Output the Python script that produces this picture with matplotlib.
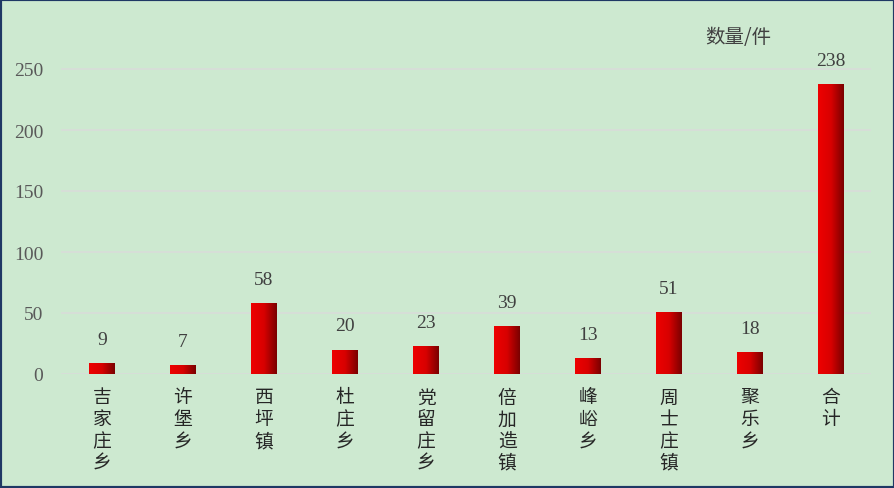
import numpy as np
import matplotlib.pyplot as plt
from matplotlib.colors import LinearSegmentedColormap
from matplotlib.patches import Rectangle

towns = ["吉家庄乡", "许堡乡", "西坪镇", "杜庄乡", "党留庄乡",
         "倍加造镇", "峰峪乡", "周士庄镇", "聚乐乡", "合计"]
counts = [9, 7, 58, 20, 23, 39, 13, 51, 18, 238]
yticks = [0, 50, 100, 150, 200, 250]

bg = "#cde9d0"
fig = plt.figure(figsize=(8.95, 4.89), dpi=100, facecolor=bg)
ax = fig.add_axes([61.5 / 895, 114 / 489, 810 / 895, 329.4 / 489])
ax.set_facecolor(bg)

# frame around the whole picture
fig.patches.append(Rectangle((0, 0), 1, 1, transform=fig.transFigure,
                             fill=False, edgecolor="#1f3864", linewidth=3))

x = np.arange(len(towns))
w = 0.32
cmap = LinearSegmentedColormap.from_list("redgrad", ["#ee0000", "#d80000", "#7a0000"])
grad = np.linspace(0, 1, 100).reshape(1, -1)
bars = ax.bar(x, counts, width=w, color="none", edgecolor="none", zorder=2)
for b in bars:
    im = ax.imshow(grad, cmap=cmap, aspect="auto", zorder=2,
                   extent=[b.get_x(), b.get_x() + b.get_width(), 0, b.get_height()])
    im.set_clip_path(b)

for xi, v in zip(x, counts):
    ax.annotate(str(v), (xi, v), xytext=(0, 17), textcoords="offset points",
                ha="center", va="center", fontsize=14, color="#404040",
                family="Liberation Serif")

ax.set_xlim(-0.5, len(towns) - 0.5)
ax.set_ylim(0, 270)
ax.set_yticks(yticks)
ax.set_yticklabels([str(t) for t in yticks], family="Liberation Serif",
                   fontsize=14, color="#595959")
ax.yaxis.grid(True, color="#d9dcd9", linewidth=1.2, zorder=0)
ax.set_axisbelow(True)
ax.set_xticks(x)
ax.set_xticklabels(["\n".join(t) for t in towns], family="Noto Sans CJK SC",
                   fontsize=13.5, color="#262626", linespacing=1.05, va="top")
ax.tick_params(length=0)
ax.tick_params(axis="x", pad=9)
ax.tick_params(axis="y", pad=13)
for s in ax.spines.values():
    s.set_visible(False)

fig.text(738 / 895, 1 - 38 / 489, "数量/件", ha="center", va="center",
         fontsize=14, color="#404040", family="Noto Sans CJK SC")

plt.savefig("out.png", dpi=100, facecolor=bg)
